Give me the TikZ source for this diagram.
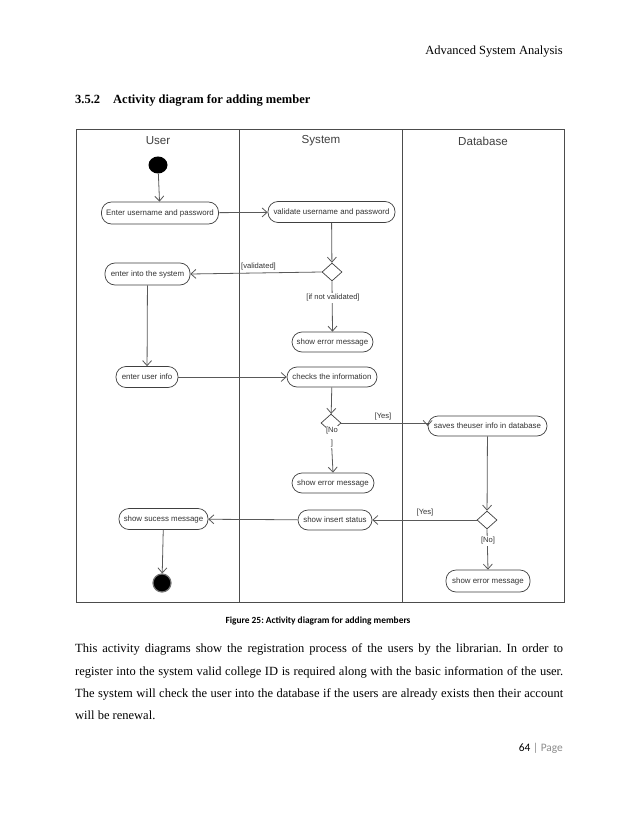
\documentclass[tikz,border=0pt]{standalone}
\usepackage{fontspec}
\setmainfont{Liberation Serif}
\newfontfamily\diagfont{Liberation Sans}
\newfontfamily\calfont{Carlito}
\usetikzlibrary{shapes.geometric,arrows.meta}
\frenchspacing
\begin{document}
\begin{tikzpicture}[x=1pt,y=-1pt,
  act/.style={draw=black!75, line width=0.7pt, rounded corners=10pt, minimum height=21pt, inner sep=0pt, font=\diagfont\fontsize{7.9}{8.5}\selectfont, text=black!80},
  dec/.style={diamond, draw=black!75, line width=0.7pt, minimum width=20pt, minimum height=18pt, inner sep=0pt},
  flow/.style={draw=black!65, line width=0.8pt, -{Straight Barb[length=5pt,width=9pt]}},
  guard/.style={font=\diagfont\fontsize{7.6}{8}\selectfont, text=black!80, inner sep=1pt},
  lanehead/.style={font=\diagfont\fontsize{11.6}{13}\selectfont, text=black!75},
  lane/.style={draw=black!70, line width=1pt},
  body/.style={font=\fontsize{12.5}{15}\selectfont, inner sep=0pt}
]
\useasboundingbox (0,0) rectangle (638,826);
\fill[white] (0,0) rectangle (638,826);

% page header and heading
\node[body, anchor=base east] (hdr) at (563,55) {Advanced System Analysis};
\node[body, anchor=base west, font=\bfseries\fontsize{12.5}{15}\selectfont] (secnum) at (75,104) {3.5.2};
\node[body, anchor=base west, font=\bfseries\fontsize{12.5}{15}\selectfont] (sectitle) at (113,104) {Activity diagram for adding member};

% swimlane frame
\draw[lane] (76.5,130) rectangle (564,602.5);
\draw[lane] (239.5,130) -- (239.5,602.5);
\draw[lane] (402,130) -- (402,602.5);
\node[lanehead] (hUser) at (158,141) {User};
\node[lanehead] (hSys) at (321,141) {System};
\node[lanehead] (hDb) at (483,141) {Database};

% nodes
\node[ellipse, fill=black, minimum width=19pt, minimum height=17pt, inner sep=0pt] (start) at (158,165) {};
\node[act, minimum width=117pt, minimum height=22pt] (enter) at (160,213) {Enter username and password};
\node[act, minimum width=127pt] (valid) at (331.5,212) {validate username and password};
\node[dec] (d1) at (332,272) {};
\node[act, minimum width=85pt, minimum height=22pt] (intosys) at (147.5,274) {enter into the system};
\node[act, minimum width=81pt, minimum height=20pt] (err1) at (332.5,342) {show error message};
\node[act, minimum width=62pt] (uinfo) at (147,377) {enter user info};
\node[act, minimum width=90pt, minimum height=20pt] (checks) at (332,377) {checks the information};
\node[dec] (d2) at (331,423) {};
\node[act, minimum width=119pt, minimum height=20pt] (saves) at (487.5,426) {saves theuser info in database};
\node[act, minimum width=82pt, minimum height=20pt] (err2) at (333,483) {show error message};
\node[act, minimum width=74pt, minimum height=20pt] (ins) at (335,520) {show insert status};
\node[dec] (d3) at (487,520) {};
\node[act, minimum width=84pt, minimum height=22pt] (err3) at (488,581) {show error message};
\node[act, minimum width=89pt] (succ) at (163.5,519) {show sucess message};
\node[circle, fill=black, draw=black!55, line width=1.2pt, minimum size=18pt, inner sep=0pt] (end) at (162,583) {};

% flows
\draw[flow] (start) -- (enter);
\draw[flow] (enter) -- (valid);
\draw[flow] (valid) -- (d1);
\draw[flow] (d1.west) -- (intosys.east);
\node[guard, anchor=south west] (gval) at (240,271) {[validated]};
\draw[flow] (d1.south) -- (err1.north);
\node[guard, fill=white] (gnot) at (333,298) {[if not validated]};
\draw[flow] (intosys) -- (uinfo);
\draw[flow] (uinfo) -- (checks);
\draw[flow] (checks) -- (d2);
\draw[flow] (d2.east) -- (saves.west |- d2.east) -- (saves.west);
\node[guard] (gyes1) at (383,417) {[Yes]};
\draw[flow] (d2.south) -- (err2.north);
\node[guard, fill=white, align=center, inner sep=0.5pt] (gno1) at (332,437) {[No\\[5pt]{]}};
\draw[flow] (saves) -- (d3);
\draw[flow] (d3.west) -- (ins.east);
\node[guard] (gyes2) at (425,513) {[Yes]};
\draw[flow] (d3.south) -- (err3.north);
\node[guard, fill=white] (gno2) at (488,541) {[No]};
\draw[flow] (ins) -- (succ);
\draw[flow] (succ) -- (end);

% caption
\node[anchor=base, inner sep=0pt, font=\calfont\bfseries\fontsize{9.4}{11}\selectfont] (cap) at (318,623) {Figure 25: Activity diagram for adding members};

% body text
\node[body, anchor=base west] (l1) at (75,652) {\makebox[488pt][s]{This activity diagrams show the registration process of the users by the librarian. In order to}};
\node[body, anchor=base west] (l2) at (75,675) {\makebox[488pt][s]{register into the system valid college ID is required along with the basic information of the user.}};
\node[body, anchor=base west] (l3) at (75,697) {\makebox[488pt][s]{The system will check the user into the database if the users are already exists then their account}};
\node[body, anchor=base west] (l4) at (75,719) {will be renewal.};

% page number
\node[anchor=base east, inner sep=0pt, font=\calfont\fontsize{11.4}{13}\selectfont] (pg) at (563,751) {64 {\color{black!45}| Page}};
\end{tikzpicture}
\end{document}
